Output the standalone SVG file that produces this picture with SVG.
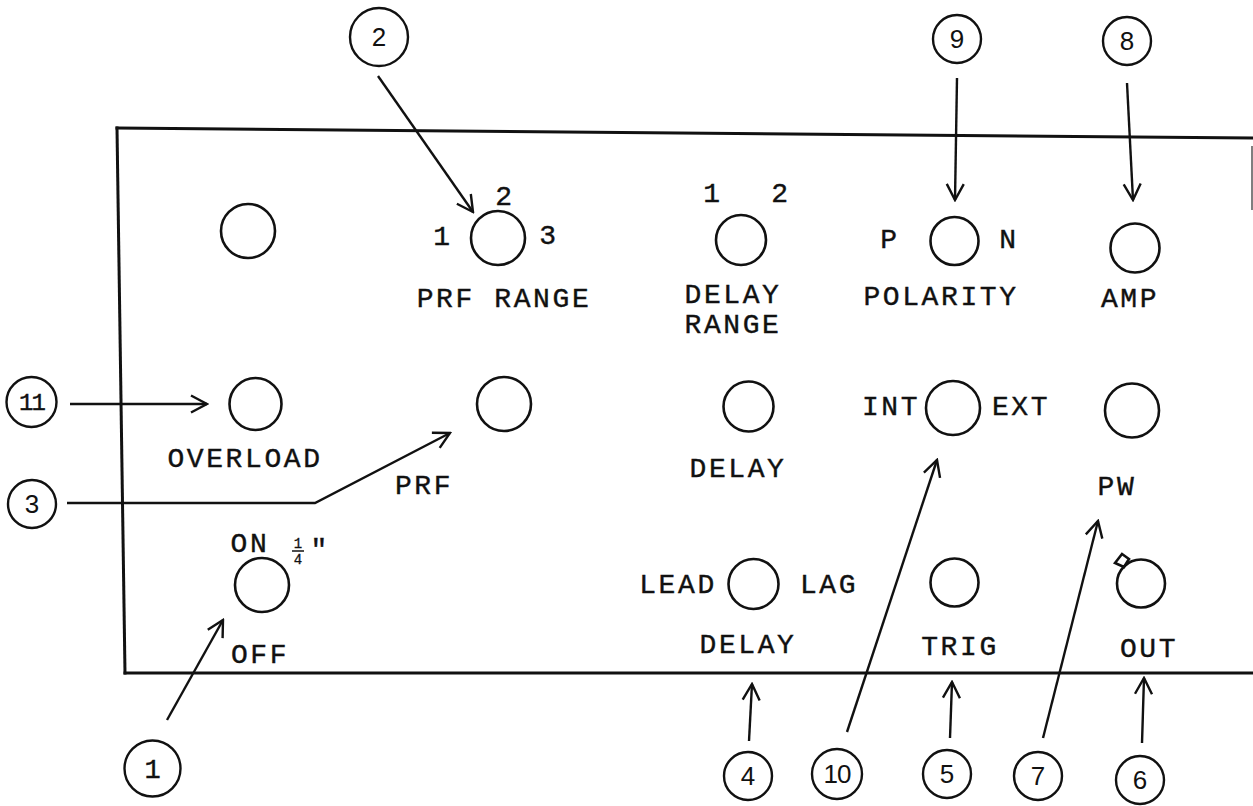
<svg xmlns="http://www.w3.org/2000/svg" width="1253" height="806" viewBox="0 0 1253 806">
<style>
.panel{fill:none;stroke:#111;stroke-width:3;stroke-linecap:square}
.knob{fill:none;stroke:#111;stroke-width:2.6}
.call{fill:none;stroke:#111;stroke-width:2.4}
.lead{fill:none;stroke:#111;stroke-width:2.4;marker-end:url(#arr)}
.t{font-family:"Liberation Mono","DejaVu Sans Mono",monospace;font-size:28px;letter-spacing:2.6px;fill:#111;stroke:#111;stroke-width:0.4;text-anchor:middle}
.n{font-family:"Liberation Sans",Arial,sans-serif;font-size:26px;fill:#111;text-anchor:middle}
.nm{font-family:"Liberation Mono","DejaVu Sans Mono",monospace;font-size:27px;fill:#111;stroke:#111;stroke-width:0.4;text-anchor:middle}
.s{font-family:"Liberation Mono","DejaVu Sans Mono",monospace;font-size:14px;fill:#111;stroke:#111;stroke-width:0.3;text-anchor:middle}
</style>
<defs>
<marker id="arr" viewBox="0 0 20 20" refX="18" refY="10" markerWidth="20" markerHeight="20" markerUnits="userSpaceOnUse" orient="auto">
<path d="M2,1.5 L18,10 L2,18.5" fill="none" stroke="#111" stroke-width="2.4" stroke-linejoin="miter"/>
</marker>
</defs>
<rect width="1253" height="806" fill="#fff"/>

<g id="panel">
<line class="panel" x1="117" y1="128" x2="1253" y2="138"/>
<line class="panel" x1="117" y1="128" x2="125" y2="673"/>
<line class="panel" x1="125" y1="673" x2="1253" y2="673"/>
<line x1="1252" y1="146" x2="1252" y2="210" stroke="#555" stroke-width="1.5"/>
</g>

<g id="ctl-blank"><circle class="knob" cx="248" cy="231" r="27"/></g>
<g id="ctl-prf-range">
<circle class="knob" cx="498" cy="238" r="27"/>
<text class="t" x="443" y="245">1</text>
<text class="t" x="505" y="205">2</text>
<text class="t" x="549" y="244">3</text>
<text class="t" x="504" y="307">PRF RANGE</text>
</g>
<g id="ctl-delay-range">
<circle class="knob" cx="741" cy="240" r="25"/>
<text class="t" x="713" y="202">1</text>
<text class="t" x="781" y="202">2</text>
<text class="t" x="733" y="303">DELAY</text>
<text class="t" x="733" y="333">RANGE</text>
</g>
<g id="ctl-polarity">
<circle class="knob" cx="954.5" cy="241" r="24"/>
<text class="t" x="890" y="248">P</text>
<text class="t" x="1009" y="248">N</text>
<text class="t" x="941" y="305">POLARITY</text>
</g>
<g id="ctl-amp">
<circle class="knob" cx="1135" cy="248" r="24.5"/>
<text class="t" x="1130" y="307">AMP</text>
</g>
<g id="ctl-overload">
<circle class="knob" cx="255.5" cy="404" r="26"/>
<text class="t" x="245" y="467">OVERLOAD</text>
</g>
<g id="ctl-prf">
<circle class="knob" cx="504" cy="404" r="27"/>
<text class="t" x="424" y="494">PRF</text>
</g>
<g id="ctl-delay">
<circle class="knob" cx="748.5" cy="406.5" r="25"/>
<text class="t" x="738" y="477">DELAY</text>
</g>
<g id="ctl-int-ext">
<circle class="knob" cx="953" cy="408" r="27"/>
<text class="t" x="891" y="415">INT</text>
<text class="t" x="1021" y="415">EXT</text>
</g>
<g id="ctl-pw">
<circle class="knob" cx="1132" cy="410.5" r="27"/>
<text class="t" x="1117" y="495">PW</text>
</g>
<g id="ctl-on-off">
<circle class="knob" cx="262" cy="585" r="27"/>
<text class="t" x="250" y="552">ON</text>
<text class="s" x="298" y="548">1</text>
<line x1="292" y1="551" x2="304" y2="551" stroke="#111" stroke-width="1.5"/>
<text class="s" x="298" y="564">4</text>
<text class="t" x="319" y="558" style="letter-spacing:0">"</text>
<text class="t" x="260" y="663">OFF</text>
</g>
<g id="ctl-lead-lag">
<circle class="knob" cx="753.5" cy="584" r="25"/>
<text class="t" x="678" y="593">LEAD</text>
<text class="t" x="829" y="593">LAG</text>
<text class="t" x="748" y="653">DELAY</text>
</g>
<g id="ctl-trig">
<circle class="knob" cx="954.5" cy="582.5" r="24"/>
<text class="t" x="960" y="655">TRIG</text>
</g>
<g id="ctl-out">
<circle class="knob" cx="1141" cy="583.5" r="24"/>
<polygon class="knob" points="1115,563 1122,554 1129,559 1124,567"/>
<text class="t" x="1149" y="657">OUT</text>
</g>

<g id="connectors">
<line class="lead" x1="167" y1="720" x2="223" y2="620"/>
<line class="lead" x1="378" y1="76" x2="473" y2="212"/>
<polyline class="lead" points="67,503 315,503 450,433"/>
<line class="lead" x1="749" y1="741" x2="752" y2="684"/>
<line class="lead" x1="950" y1="738" x2="952" y2="682"/>
<line class="lead" x1="1142" y1="743" x2="1144" y2="678"/>
<line class="lead" x1="1043" y1="738" x2="1098" y2="521"/>
<line class="lead" x1="1127" y1="83" x2="1133" y2="200"/>
<line class="lead" x1="957" y1="78" x2="955" y2="200"/>
<line class="lead" x1="847" y1="732" x2="937" y2="460"/>
<line class="lead" x1="70" y1="404" x2="207" y2="404"/>
</g>

<g id="callout-1"><circle class="call" cx="152.5" cy="768.5" r="28"/><text class="nm" x="152.5" y="778">1</text></g>
<g id="callout-2"><circle class="call" cx="379" cy="37" r="29"/><text class="n" x="379" y="46">2</text></g>
<g id="callout-3"><circle class="call" cx="32" cy="504" r="24"/><text class="n" x="32" y="513">3</text></g>
<g id="callout-4"><circle class="call" cx="748" cy="776" r="24"/><text class="n" x="748" y="785">4</text></g>
<g id="callout-5"><circle class="call" cx="947" cy="774" r="24"/><text class="n" x="947" y="783">5</text></g>
<g id="callout-6"><circle class="call" cx="1140" cy="780" r="24"/><text class="n" x="1140" y="789">6</text></g>
<g id="callout-7"><circle class="call" cx="1038" cy="776" r="24"/><text class="n" x="1038" y="785">7</text></g>
<g id="callout-8"><circle class="call" cx="1127" cy="41" r="24"/><text class="n" x="1127" y="50">8</text></g>
<g id="callout-9"><circle class="call" cx="957" cy="39" r="24"/><text class="n" x="957" y="48">9</text></g>
<g id="callout-10"><circle class="call" cx="837" cy="774" r="25"/><text class="n" x="837" y="783" style="letter-spacing:-1px">10</text></g>
<g id="callout-11"><circle class="call" cx="31.5" cy="402" r="25"/><text class="nm" x="31.5" y="410" style="font-size:24px;letter-spacing:-2px">11</text></g>
</svg>
